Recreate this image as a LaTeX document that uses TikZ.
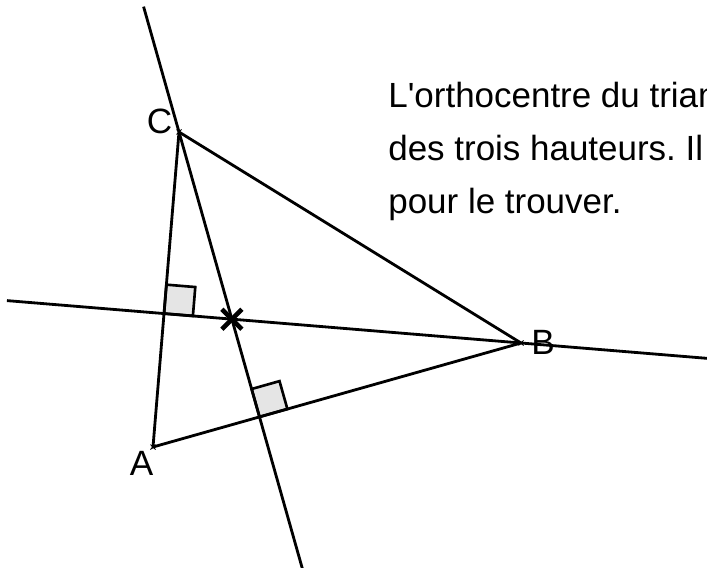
\documentclass[tikz,border=0pt]{standalone}
\usepackage{fontspec}
\setmainfont{Liberation Sans}[Ligatures=TeXOff]
\usepackage{tikz}
\usetikzlibrary{calc}
\frenchspacing
\tikzset{
  trait/.style={line width=1.6pt, color=black},
  angledroit/.style={line width=1.5pt, draw=black, fill=gray!20},
  croix/.style={line width=0.5pt},
  ortho/.style={line width=2.6pt},
  sommet/.style={font=\fontsize{20}{30}\selectfont, inner sep=0pt},
  texte/.style={font=\fontsize{19.9}{30.1}\selectfont, align=left, inner sep=0pt}
}

\begin{document}
\begin{tikzpicture}[x=0.02cm, y=-0.02cm]
  \useasboundingbox (0,0) rectangle (707,568);
  \clip (0,0) rectangle (707,568);

  % Sommets
  \coordinate (A) at (153,447);
  \coordinate (B) at (521,343);
  \coordinate (C) at (179,132);

  % Pieds des hauteurs et orthocentre
  \coordinate (FB) at ($(A)!(B)!(C)$);
  \coordinate (FC) at ($(A)!(C)!(B)$);
  \coordinate (H) at (intersection of B--FB and C--FC);

  % Extremites des hauteurs
  \coordinate (b1) at ($(B)!1.44!(FB)$);
  \coordinate (b2) at ($(B)!-0.6!(FB)$);
  \coordinate (c1) at ($(C)!-0.44!(FC)$);
  \coordinate (c2) at ($(C)!1.56!(FC)$);

  % Angles droits
  \coordinate (pb1) at ($(FB)!0.58cm!(C)$);
  \coordinate (pb2) at ($(FB)!0.58cm!(B)$);
  \filldraw[angledroit] (FB) -- (pb1) -- ($(pb1)+(pb2)-(FB)$) -- (pb2) -- cycle;
  \coordinate (pc1) at ($(FC)!0.58cm!(C)$);
  \coordinate (pc2) at ($(FC)!0.58cm!(B)$);
  \filldraw[angledroit] (FC) -- (pc1) -- ($(pc1)+(pc2)-(FC)$) -- (pc2) -- cycle;

  % Triangle
  \draw[trait] (A) -- (B) -- (C) -- cycle;

  % Hauteurs
  \draw[trait] (b1) -- (b2);
  \draw[trait] (c1) -- (c2);

  % Marques des points
  \foreach \p in {A,B,C}
    \draw[croix] ($(\p)+(-2.5,-2.5)$) -- ($(\p)+(2.5,2.5)$)
                 ($(\p)+(-2.5,2.5)$) -- ($(\p)+(2.5,-2.5)$);
  \draw[ortho] ($(H)+(-10,-10)$) -- ($(H)+(10,10)$)
               ($(H)+(-10,10)$) -- ($(H)+(10,-10)$);

  % Noms
  \node[sommet] (lA) at (141.5,463) {A};
  \node[sommet] (lB) at (543,342) {B};
  \node[sommet] (lC) at (159.5,121) {C};

  % Texte
  \node[texte, anchor=base west] (txt) at (388,213)
    {L'orthocentre du trian\\des trois hauteurs. Il\\pour le trouver.};

\end{tikzpicture}
\end{document}
